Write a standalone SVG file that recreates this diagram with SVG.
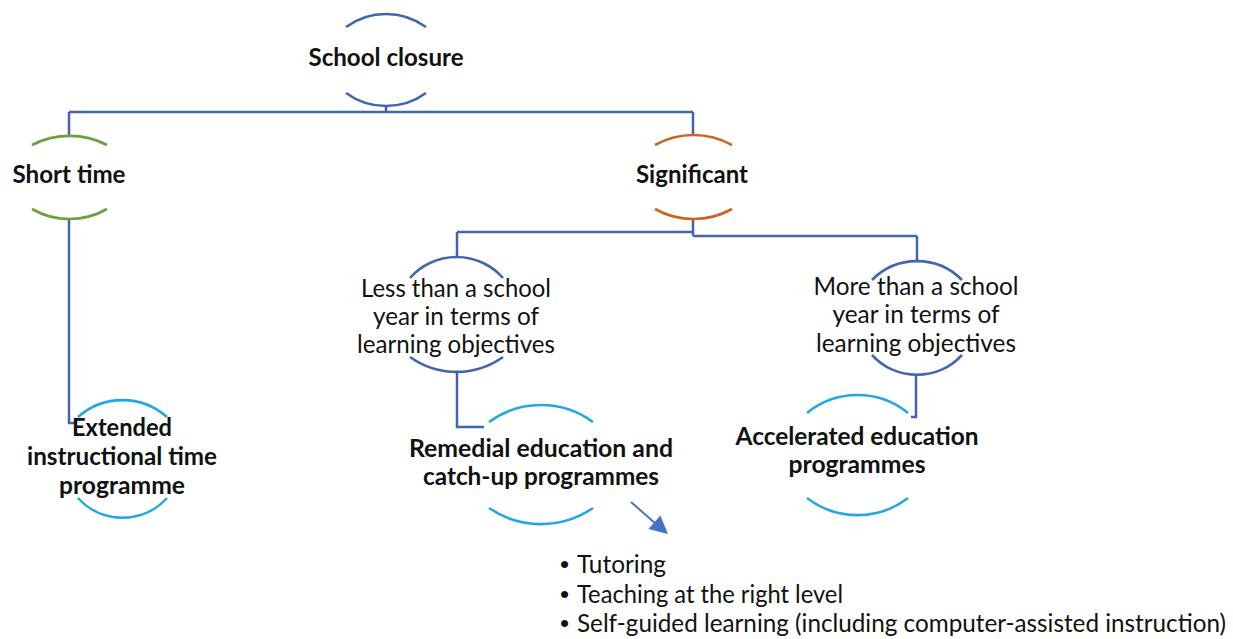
<svg xmlns="http://www.w3.org/2000/svg" width="1233" height="639" viewBox="0 0 1233 639">
<defs>
<style>
.arc{fill:none;stroke-width:2.6;stroke-linecap:butt}
.blue{stroke:#4166AE}
.green{stroke:#6E9E42}
.orange{stroke:#CF6420}
.cyan{stroke:#22A7E2}
.conn{fill:none;stroke:#4166AE;stroke-width:2.5}
.b{font-family:Lato,"Liberation Sans",sans-serif;font-weight:bold;font-size:24.5px;fill:#111;text-anchor:middle}
.r{font-family:Lato,"Liberation Sans",sans-serif;font-size:24.5px;fill:#111;text-anchor:middle}
.l{font-family:Lato,"Liberation Sans",sans-serif;font-size:24.5px;fill:#111}
.dot{font-family:"Liberation Sans",sans-serif;font-size:26px;fill:#111}
</style>
</defs>
<rect width="1233" height="639" fill="#fff"/>

<g id="connectors">
<path class="conn" d="M386,106 V112 M69,112 H693 M69,112 V136 M693,112 V135"/>
<path class="conn" d="M69,219 V423 H76"/>
<path class="conn" d="M693,219 V236 M457,232 H693 M693,236 H917 M457,232 V257 M917,236 V261"/>
<path class="conn" d="M457,372 V427 H484"/>
<path class="conn" d="M916,375 V417 H911"/>
<line x1="631" y1="502" x2="656" y2="524" stroke="#4472C4" stroke-width="2"/>
<polygon points="668,534 648.5,529 660.3,515.4" fill="#4472C4"/>
</g>

<g id="school-closure">
<path class="arc blue" d="M346,27 A68,68 0 0 1 426,27"/>
<path class="arc blue" d="M346,93 A68,68 0 0 0 426,93"/>
<text class="b" x="386" y="66" textLength="155" lengthAdjust="spacingAndGlyphs">School closure</text>
</g>

<g id="short-time">
<path class="arc green" d="M32,145 A82,82 0 0 1 107,145"/>
<path class="arc green" d="M32,209 A75,75 0 0 0 107,209"/>
<text class="b" x="69" y="183" textLength="113" lengthAdjust="spacingAndGlyphs">Short time</text>
</g>

<g id="significant">
<path class="arc orange" d="M655,145 A79,79 0 0 1 732,145"/>
<path class="arc orange" d="M655,209 A79,79 0 0 0 732,209"/>
<text class="b" x="692" y="183" textLength="112" lengthAdjust="spacingAndGlyphs">Significant</text>
</g>

<g id="less-than">
<path class="arc blue" d="M410,278 A62,62 0 0 1 503,278"/>
<path class="arc blue" d="M410,357 A80,80 0 0 0 503,357"/>
<text class="r" x="456" y="297" textLength="190" lengthAdjust="spacingAndGlyphs">Less than a school</text>
<text class="r" x="456" y="325" textLength="166" lengthAdjust="spacingAndGlyphs">year in terms of</text>
<text class="r" x="456" y="353" textLength="198" lengthAdjust="spacingAndGlyphs">learning objectives</text>
</g>

<g id="more-than">
<path class="arc blue" d="M872,280 A63,63 0 0 1 962,280"/>
<path class="arc blue" d="M872,355 A61,61 0 0 0 962,355"/>
<text class="r" x="916" y="295" textLength="205" lengthAdjust="spacingAndGlyphs">More than a school</text>
<text class="r" x="916" y="323" textLength="167" lengthAdjust="spacingAndGlyphs">year in terms of</text>
<text class="r" x="916" y="352" textLength="200" lengthAdjust="spacingAndGlyphs">learning objectives</text>
</g>

<g id="extended">
<path class="arc cyan" d="M78,417 A67,67 0 0 1 167,417"/>
<path class="arc cyan" d="M78,498 A60,60 0 0 0 167,498"/>
<text class="b" x="122" y="436" textLength="100" lengthAdjust="spacingAndGlyphs">Extended</text>
<text class="b" x="122" y="465" textLength="190" lengthAdjust="spacingAndGlyphs">instructional time</text>
<text class="b" x="122" y="494" textLength="126" lengthAdjust="spacingAndGlyphs">programme</text>
</g>

<g id="remedial">
<path class="arc cyan" d="M489,422 A88,88 0 0 1 593,422"/>
<path class="arc cyan" d="M489,508 A92,92 0 0 0 593,508"/>
<text class="b" x="541" y="457" textLength="264" lengthAdjust="spacingAndGlyphs">Remedial education and</text>
<text class="b" x="541" y="485" textLength="236" lengthAdjust="spacingAndGlyphs">catch-up programmes</text>
</g>

<g id="accelerated">
<path class="arc cyan" d="M807,413 A80,80 0 0 1 908,413"/>
<path class="arc cyan" d="M807,498 A83,83 0 0 0 908,498"/>
<text class="b" x="857" y="445" textLength="243" lengthAdjust="spacingAndGlyphs">Accelerated education</text>
<text class="b" x="857" y="473" textLength="137" lengthAdjust="spacingAndGlyphs">programmes</text>
</g>

<g id="bullets">
<text class="dot" x="560" y="573">•</text>
<text class="l" x="577" y="573" textLength="89" lengthAdjust="spacingAndGlyphs">Tutoring</text>
<text class="dot" x="560" y="603">•</text>
<text class="l" x="577" y="603" textLength="266" lengthAdjust="spacingAndGlyphs">Teaching at the right level</text>
<text class="dot" x="560" y="632">•</text>
<text class="l" x="577" y="632" textLength="649" lengthAdjust="spacingAndGlyphs">Self-guided learning (including computer-assisted instruction)</text>
</g>
</svg>
